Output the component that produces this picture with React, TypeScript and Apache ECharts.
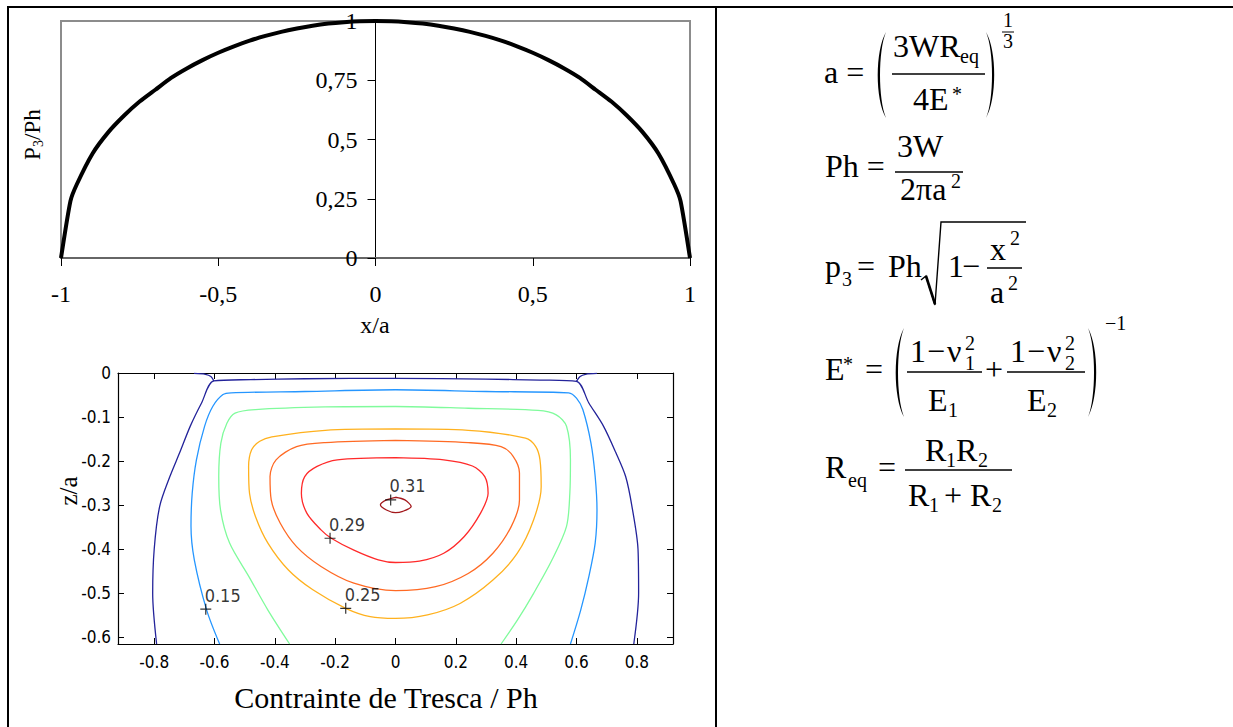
import React, { useEffect, useRef } from 'react';
import * as echarts from 'echarts';

const SERIF = "'Liberation Serif', 'Times New Roman', serif";
const NARROW = "'Liberation Sans Narrow', 'Arial Narrow', 'DejaVu Sans Condensed', 'DejaVu Sans', sans-serif";

// ---- top chart: P3/Ph vs x/a ----
const pressureX = [-1, -0.97, -0.95, -0.9, -0.85, -0.8, -0.75, -0.7, -0.65, -0.6, -0.55, -0.5, -0.45, -0.4, -0.35, -0.3, -0.25, -0.2, -0.15, -0.1, -0.05, 0, 0.05, 0.1, 0.15, 0.2, 0.25, 0.3, 0.35, 0.4, 0.45, 0.5, 0.55, 0.6, 0.65, 0.7, 0.75, 0.8, 0.85, 0.9, 0.95, 0.97, 1];
const pressureY = [0, 0.24, 0.31, 0.44, 0.53, 0.6, 0.66, 0.71, 0.76, 0.8, 0.835, 0.866, 0.893, 0.917, 0.937, 0.954, 0.968, 0.98, 0.989, 0.995, 0.999, 1, 0.999, 0.995, 0.989, 0.98, 0.968, 0.954, 0.937, 0.917, 0.893, 0.866, 0.835, 0.8, 0.76, 0.71, 0.66, 0.6, 0.53, 0.44, 0.31, 0.24, 0];
const topXTicks = [-1, -0.5, 0, 0.5, 1];
const topYTicks = [0, 0.25, 0.5, 0.75, 1];

// ---- bottom chart: Tresca contours (x/a, z/a) ----
const bottomXTicks = [-0.8, -0.6, -0.4, -0.2, 0, 0.2, 0.4, 0.6, 0.8];
const bottomYTicks = [-0.6, -0.5, -0.4, -0.3, -0.2, -0.1, 0];

const contourNavy = [[-0.792, -0.615], [-0.805, -0.5], [-0.8, -0.4], [-0.782, -0.303], [-0.748, -0.235], [-0.715, -0.18], [-0.68, -0.12], [-0.643, -0.068], [-0.602, -0.018], [-0.48, -0.015], [-0.3, -0.013], [0, -0.012], [0.3, -0.014], [0.48, -0.016], [0.6, -0.019], [0.641, -0.068], [0.689, -0.12], [0.73, -0.18], [0.763, -0.235], [0.784, -0.303], [0.804, -0.4], [0.806, -0.5], [0.79, -0.615]];
const contourNavyLeftTip = [[-0.668, -0.001], [-0.63, -0.003], [-0.612, -0.008], [-0.602, -0.018]];
const contourNavyRightTip = [[0.6, -0.019], [0.612, -0.008], [0.63, -0.003], [0.668, -0.001]];
const contourBlue = [[-0.583, -0.615], [-0.626, -0.538], [-0.667, -0.424], [-0.678, -0.348], [-0.674, -0.273], [-0.66, -0.197], [-0.633, -0.121], [-0.606, -0.076], [-0.572, -0.049], [-0.545, -0.045], [-0.3, -0.042], [0, -0.038], [0.3, -0.042], [0.574, -0.045], [0.6, -0.057], [0.621, -0.083], [0.648, -0.159], [0.662, -0.235], [0.668, -0.311], [0.662, -0.386], [0.641, -0.462], [0.614, -0.538], [0.58, -0.615]];
const contourGreen = [[-0.351, -0.615], [-0.423, -0.538], [-0.486, -0.462], [-0.55, -0.386], [-0.58, -0.311], [-0.586, -0.235], [-0.579, -0.159], [-0.559, -0.114], [-0.532, -0.091], [-0.464, -0.083], [-0.233, -0.077], [0, -0.076], [0.241, -0.08], [0.472, -0.085], [0.533, -0.095], [0.567, -0.121], [0.58, -0.197], [0.578, -0.273], [0.567, -0.348], [0.519, -0.424], [0.458, -0.5], [0.404, -0.561], [0.35, -0.615]];
const contourOrange = [[0, -0.127], [-0.233, -0.13], [-0.41, -0.145], [-0.45, -0.155], [-0.477, -0.174], [-0.487, -0.212], [-0.484, -0.273], [-0.464, -0.326], [-0.423, -0.386], [-0.355, -0.447], [-0.274, -0.492], [-0.165, -0.534], [-0.084, -0.553], [0, -0.557], [0.106, -0.549], [0.214, -0.523], [0.323, -0.47], [0.404, -0.409], [0.458, -0.333], [0.483, -0.258], [0.479, -0.197], [0.465, -0.167], [0.431, -0.148], [0.241, -0.13], [0, -0.127]];
const contourOrangeRed = [[0, -0.153], [-0.233, -0.158], [-0.328, -0.167], [-0.396, -0.197], [-0.416, -0.235], [-0.412, -0.288], [-0.382, -0.341], [-0.328, -0.394], [-0.247, -0.439], [-0.138, -0.477], [0, -0.494], [0.133, -0.485], [0.241, -0.455], [0.323, -0.409], [0.384, -0.348], [0.411, -0.288], [0.411, -0.227], [0.39, -0.189], [0.35, -0.167], [0.241, -0.158], [0, -0.153]];
const contourRed = [[0, -0.192], [-0.193, -0.197], [-0.26, -0.212], [-0.301, -0.235], [-0.312, -0.273], [-0.294, -0.318], [-0.247, -0.356], [-0.213, -0.375], [-0.138, -0.402], [-0.057, -0.424], [0, -0.43], [0.079, -0.427], [0.16, -0.409], [0.228, -0.371], [0.282, -0.318], [0.307, -0.273], [0.296, -0.235], [0.255, -0.211], [0.16, -0.197], [0, -0.192]];
const contourDarkRed = [[0, -0.282], [0.031, -0.288], [0.052, -0.303], [0.024, -0.314], [0, -0.317], [-0.03, -0.311], [-0.05, -0.299], [-0.03, -0.288], [0, -0.282]];
const contourLabels = [[-0.016, -0.288, '0.31'], [-0.217, -0.375, '0.29'], [-0.165, -0.534, '0.25'], [-0.629, -0.536, '0.15']];

echarts.graphic.registerShape('lparen', echarts.graphic.extendPath('M12 0 C1 22 1 78 12 100 C4 78 4 22 12 0 Z', {}));
echarts.graphic.registerShape('rparen', echarts.graphic.extendPath('M0 0 C11 22 11 78 0 100 C8 78 8 22 0 0 Z', {}));

const B = (text: string, x: number, baseline: number, size = 32, extra: any = {}) => ({
  type: 'text', x, y: baseline - 0.34 * size, silent: true,
  style: { text, fontSize: size, fontFamily: SERIF, fill: '#000', align: 'left', verticalAlign: 'middle', ...extra },
});
const L = (x1: number, y1: number, x2: number, y2: number, w = 1.5) => ({
  type: 'line', silent: true, shape: { x1, y1, x2, y2 }, style: { stroke: '#000', lineWidth: w },
});
const P = (kind: string, x: number, y: number, h: number) => ({
  type: kind, x, y, scaleX: 1, scaleY: h / 100, silent: true, style: { fill: '#000' },
});

function buildGraphic() {
  const g: any[] = [];
  // table borders
  g.push(L(7, 7, 1233, 7, 2), L(8, 6, 8, 727, 2), L(716, 6, 716, 727, 2));
  // top chart titles
  g.push({ type: 'text', x: 375, y: 325, silent: true, style: { text: 'x/a', fontSize: 24, fontFamily: SERIF, fill: '#000', align: 'center', verticalAlign: 'middle' } });
  g.push({
    type: 'group', x: 32, y: 134, rotation: Math.PI / 2, silent: true,
    children: [
      { type: 'text', x: -26, y: 0, style: { text: 'P', fontSize: 23, fontFamily: SERIF, fill: '#000', align: 'left', verticalAlign: 'middle' } },
      { type: 'text', x: -13, y: 6, style: { text: '3', fontSize: 14, fontFamily: SERIF, fill: '#000', align: 'left', verticalAlign: 'middle' } },
      { type: 'text', x: -6, y: 0, style: { text: '/Ph', fontSize: 23, fontFamily: SERIF, fill: '#000', align: 'left', verticalAlign: 'middle' } },
    ],
  });
  // bottom chart titles
  g.push({ type: 'text', x: 386, y: 697, silent: true, style: { text: 'Contrainte de Tresca / Ph', fontSize: 30, fontFamily: SERIF, fill: '#000', align: 'center', verticalAlign: 'middle' } });
  g.push({ type: 'text', x: 68, y: 491, rotation: Math.PI / 2, silent: true, style: { text: 'z/a', fontSize: 25, fontFamily: SERIF, fill: '#000', align: 'center', verticalAlign: 'middle' } });

  // formula 1
  g.push(B('a =', 824, 83));
  g.push(P('lparen', 874, 32, 86));
  g.push(B('3WR', 893, 57), B('eq', 960, 63, 20));
  g.push(L(892, 74, 985, 74));
  g.push(B('4E', 913, 110), B('*', 952, 101, 20));
  g.push(P('rparen', 986, 32, 86));
  g.push(B('1', 1003, 27, 20), L(1002, 32, 1014, 32, 1), B('3', 1003, 48, 20));
  // formula 2
  g.push(B('Ph =', 825, 177));
  g.push(B('3W', 897, 157));
  g.push(L(895, 172, 963, 172));
  g.push(B('2πa', 900, 200), B('2', 951, 188, 20));
  // formula 3
  g.push(B('p', 825, 277), B('3', 842, 286, 20), B('=', 857, 277), B('Ph', 888, 277));
  g.push({ type: 'polyline', silent: true, shape: { points: [[921, 280], [926, 276], [935, 305], [941, 222], [1026, 222]] }, style: { stroke: '#000', lineWidth: 1.4, fill: null } });
  g.push(L(926, 276, 935, 304, 2.6));
  g.push(B('1', 948, 277), B('−', 962, 277));
  g.push(B('x', 990, 260), B('2', 1010, 245, 20));
  g.push(L(987, 268, 1022, 268));
  g.push(B('a', 990, 303), B('2', 1008, 290, 20));
  // formula 4
  g.push(B('E', 825, 380), B('*', 843, 371, 20), B('=', 865, 380));
  g.push(P('lparen', 892, 328, 89));
  g.push(B('1', 910, 362), B('−', 927, 362), B('ν', 947, 362), B('2', 965, 350, 20), B('1', 965, 370, 20));
  g.push(L(907, 372, 982, 372));
  g.push(B('E', 928, 411), B('1', 948, 417, 20));
  g.push(B('+', 985, 380));
  g.push(B('1', 1010, 362), B('−', 1027, 362), B('ν', 1047, 362), B('2', 1065, 350, 20), B('2', 1065, 370, 20));
  g.push(L(1007, 372, 1085, 372));
  g.push(B('E', 1027, 411), B('2', 1047, 417, 20));
  g.push(P('rparen', 1088, 328, 89));
  g.push(B('−1', 1105, 330, 20));
  // formula 5
  g.push(B('R', 825, 478), B('eq', 848, 487, 20), B('=', 878, 478));
  g.push(B('R', 925, 461), B('1', 946, 467, 20), B('R', 956, 461), B('2', 978, 467, 20));
  g.push(L(905, 470, 1012, 470));
  g.push(B('R', 908, 506), B('1', 929, 512, 20), B('+', 944, 506), B('R', 970, 506), B('2', 992, 512, 20));
  return g;
}

const comma = (v: number) => String(v).replace('.', ',');
const dot = (v: number) => (v === 0 ? '0' : v.toFixed(1));

const contour = (data: number[][], color: string) => ({
  type: 'line', xAxisIndex: 1, yAxisIndex: 1, data, showSymbol: false, smooth: 0.3, silent: true,
  lineStyle: { color, width: 1.3 },
});

export default function App() {
  const ref = useRef<HTMLDivElement>(null);
  useEffect(() => {
    document.body.style.margin = '0';
    const chart = echarts.init(ref.current!, null, { renderer: 'svg' });
    const bottomAxisCommon = {
      type: 'value', gridIndex: 1, splitLine: { show: false },
      axisLine: { show: true, onZero: false, lineStyle: { color: '#000', width: 1.2 } },
    };
    chart.setOption({
      animation: false,
      backgroundColor: '#fff',
      grid: [
        { left: 61, top: 21, width: 629, height: 237, show: true, borderColor: '#8c8c8c', borderWidth: 2, backgroundColor: 'transparent' },
        { left: 118, top: 373, width: 555, height: 271, show: false },
      ],
      xAxis: [
        {
          type: 'value', gridIndex: 0, min: -1, max: 1, interval: 0.5,
          axisLine: { show: true, onZero: true, lineStyle: { color: '#666', width: 2 } },
          axisTick: { show: true, length: 8, lineStyle: { color: '#000' }, customValues: topXTicks },
          axisLabel: { formatter: comma, fontFamily: SERIF, fontSize: 24, color: '#000', margin: 24, customValues: topXTicks },
          splitLine: { show: false },
        },
        {
          ...bottomAxisCommon, min: -0.92, max: 0.92, position: 'bottom',
          axisTick: { show: true, inside: true, length: 6, lineStyle: { color: '#000' }, customValues: bottomXTicks },
          axisLabel: { formatter: dot, fontFamily: NARROW, fontSize: 17, color: '#000', margin: 9, customValues: bottomXTicks },
        },
        {
          ...bottomAxisCommon, min: -0.92, max: 0.92, position: 'top',
          axisTick: { show: true, inside: true, length: 6, lineStyle: { color: '#000' }, customValues: bottomXTicks },
          axisLabel: { show: false },
        },
      ],
      yAxis: [
        {
          type: 'value', gridIndex: 0, min: 0, max: 1, interval: 0.25, position: 'left', offset: -314.5,
          axisLine: { show: true, onZero: false, lineStyle: { color: '#000', width: 1 } },
          axisTick: { show: true, length: 8, lineStyle: { color: '#000' }, customValues: topYTicks },
          axisLabel: { formatter: comma, fontFamily: SERIF, fontSize: 24, color: '#000', margin: 18, customValues: topYTicks },
          splitLine: { show: false },
        },
        {
          ...bottomAxisCommon, min: -0.615, max: 0, position: 'left',
          axisTick: { show: true, inside: true, length: 6, lineStyle: { color: '#000' }, customValues: bottomYTicks },
          axisLabel: { formatter: dot, fontFamily: NARROW, fontSize: 17, color: '#000', margin: 7, customValues: bottomYTicks },
        },
        {
          ...bottomAxisCommon, min: -0.615, max: 0, position: 'right',
          axisTick: { show: true, inside: true, length: 6, lineStyle: { color: '#000' }, customValues: bottomYTicks },
          axisLabel: { show: false },
        },
      ],
      series: [
        {
          type: 'line', xAxisIndex: 0, yAxisIndex: 0, showSymbol: false, smooth: 0.2, silent: true,
          data: pressureX.map((x, i) => [x, pressureY[i]]),
          lineStyle: { color: '#000', width: 4 },
        },
        contour(contourNavy, '#23239a'),
        contour(contourNavyLeftTip, '#23239a'),
        contour(contourNavyRightTip, '#23239a'),
        contour(contourBlue, '#2596ff'),
        contour(contourGreen, '#80fb9c'),
        contour(contourOrange, '#ffb11e'),
        contour(contourOrangeRed, '#ff6a24'),
        contour(contourRed, '#ff2a2a'),
        contour(contourDarkRed, '#a3181c'),
        {
          type: 'scatter', xAxisIndex: 1, yAxisIndex: 1, silent: true, z: 5,
          data: contourLabels,
          symbol: 'path://M0 5H10M5 0V10', symbolSize: 11,
          itemStyle: { color: 'transparent', borderColor: '#000', borderWidth: 1.2 },
          label: {
            show: true, formatter: (p: any) => p.value[2], position: [5, -8],
            align: 'left', verticalAlign: 'middle', fontFamily: NARROW, fontSize: 18, color: '#000',
          },
        },
      ],
      graphic: buildGraphic(),
    });
    return () => chart.dispose();
  }, []);
  return <div ref={ref} style={{ width: 1233, height: 727, overflow: 'hidden' }} />;
}
